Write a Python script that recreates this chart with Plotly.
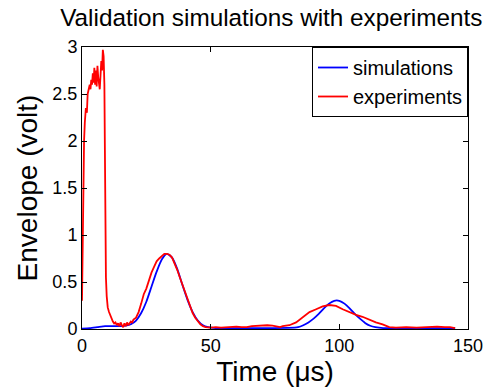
import plotly.graph_objects as go

# Simulation envelope (time in µs, envelope in volt)
sim_t = [0, 3, 6, 9, 12, 15, 17, 19, 21, 23, 25, 27, 29, 31, 33, 35, 37, 39, 41, 43, 45, 47, 49,
         52, 60, 70, 80, 84, 86, 88, 90, 92, 94, 96, 98, 100, 102, 104, 106, 108, 110, 112, 114,
         117, 125, 135, 145]
sim_v = [0.005, 0.01, 0.02, 0.03, 0.03, 0.03, 0.035, 0.05, 0.09, 0.17, 0.29, 0.45, 0.61, 0.74,
         0.80, 0.76, 0.64, 0.47, 0.31, 0.18, 0.09, 0.04, 0.02,
         0.01, 0.01, 0.01, 0.012, 0.02, 0.04, 0.07, 0.11, 0.16, 0.22, 0.27, 0.30, 0.30, 0.27, 0.22,
         0.16, 0.11, 0.065, 0.035, 0.02, 0.01, 0.01, 0.01, 0.01]

# Experimental envelope
exp_t = [0, 0.2, 0.5, 0.8, 1.1, 1.5, 1.9, 2.2, 2.6, 3.0, 3.3, 3.6, 3.9, 4.2, 4.5, 4.8, 5.1, 5.4,
         5.7, 6.0, 6.3, 6.6, 6.9, 7.2, 7.5, 7.8, 8.1, 8.4, 8.7, 8.9, 9.1, 9.3, 9.6, 10.0, 10.5,
         11.0, 11.5, 12.0, 12.5, 13, 13.5, 14, 14.5, 15, 15.5, 16, 16.5, 17, 17.5, 18, 18.5, 19,
         19.5, 20, 21, 22, 23, 24, 25, 26, 27, 28, 29, 30, 31, 32, 33, 34, 35, 36, 37, 38, 39, 40,
         41, 42, 43, 44, 45, 46, 47, 48, 50, 52, 54, 56, 58, 60, 62, 64, 66, 68, 70, 72, 74, 76,
         77, 78, 80.6, 83.2, 85.8, 88.4, 91, 93.5, 96.1, 98.7, 101.3, 103.9, 106.5, 109, 111.6,
         114.2, 116.8, 119.4, 122, 126, 130, 134, 138, 141, 143, 145]
exp_v = [0.3, 0.85, 1.6, 2.0, 2.2, 2.35, 2.3, 2.5, 2.55, 2.6, 2.55, 2.65, 2.6, 2.72, 2.62, 2.78,
         2.6, 2.75, 2.58, 2.8, 2.68, 2.6, 2.55, 2.7, 2.85, 2.75, 2.97, 2.9, 2.6, 1.9, 1.0, 0.55,
         0.35, 0.23, 0.18, 0.14, 0.12, 0.08, 0.06, 0.07, 0.04, 0.06, 0.03, 0.07, 0.04, 0.02, 0.06,
         0.03, 0.07, 0.04, 0.06, 0.08, 0.07, 0.10, 0.12, 0.18, 0.27, 0.37, 0.43, 0.52, 0.60, 0.66,
         0.72, 0.75, 0.78, 0.80, 0.80, 0.79, 0.76, 0.70, 0.63, 0.55, 0.47, 0.39, 0.31, 0.24, 0.17,
         0.12, 0.08, 0.05, 0.03, 0.02, 0.015, 0.02, 0.015, 0.02, 0.02, 0.025, 0.02, 0.02, 0.03,
         0.035, 0.04, 0.04, 0.035, 0.03, 0.02, 0.03, 0.04, 0.07, 0.13, 0.18, 0.21, 0.24, 0.255,
         0.245, 0.21, 0.18, 0.15, 0.13, 0.10, 0.07, 0.05, 0.02, 0.015, 0.02, 0.015, 0.02, 0.025,
         0.02, 0.02, 0.01]

x_ticks = [0, 50, 100, 150]
y_ticks = [0, 0.5, 1, 1.5, 2, 2.5, 3]
y_tick_labels = ["0", "0.5", "1", "1.5", "2", "2.5", "3"]

FONT = "Liberation Sans, Arial, sans-serif"

fig = go.Figure()
fig.add_trace(go.Scatter(x=sim_t, y=sim_v, mode="lines", name="simulations",
                         line=dict(color="#0000FF", width=1.8, shape="spline", smoothing=0.6)))
fig.add_trace(go.Scatter(x=exp_t, y=exp_v, mode="lines", name="experiments",
                         line=dict(color="#FF0000", width=1.8)))

axis_common = dict(showline=True, linecolor="black", linewidth=1, mirror="ticks",
                   ticks="inside", ticklen=5, tickcolor="black", showgrid=False,
                   zeroline=False, automargin=False,
                   tickfont=dict(family=FONT, size=18, color="black"))

fig.update_layout(
    width=488, height=389,
    margin=dict(l=82, r=20, t=47, b=60),
    paper_bgcolor="white", plot_bgcolor="white",
    title=dict(text="Validation simulations with experiments", x=0.556, xanchor="center",
               y=0.955, yanchor="middle",
               font=dict(family=FONT, size=24.3, color="black")),
    xaxis=dict(range=[0, 150], tickvals=x_ticks,
               title=dict(text="Time (μs)", font=dict(family=FONT, size=28, color="black"),
                          standoff=0),
               **axis_common),
    yaxis=dict(range=[0, 3], tickvals=y_ticks, ticktext=y_tick_labels,
               title=dict(text="Envelope (volt)", font=dict(family=FONT, size=28, color="black"),
                          standoff=6),
               **axis_common),
    legend=dict(x=1, y=1, xanchor="right", yanchor="top", bgcolor="white",
                bordercolor="black", borderwidth=1,
                font=dict(family=FONT, size=20, color="black"),
                tracegroupgap=0),
    showlegend=True,
)

fig.write_html("out.html")
